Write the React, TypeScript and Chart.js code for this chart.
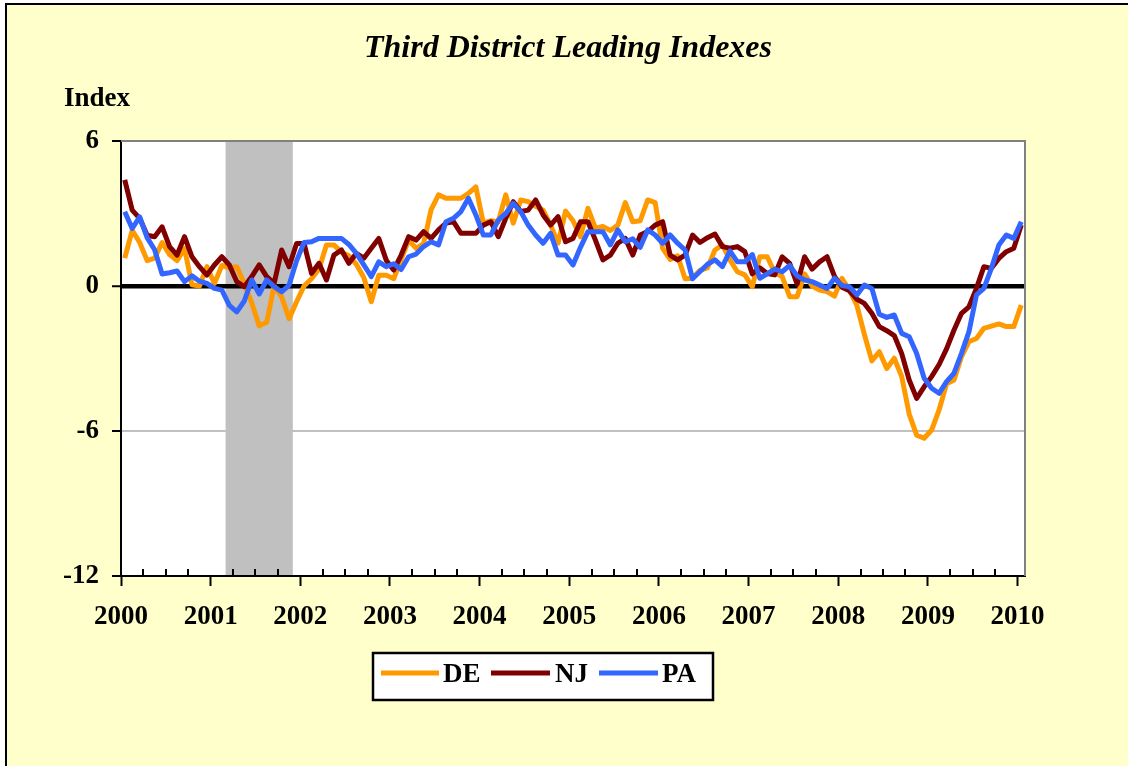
import React, { useEffect, useRef } from 'react';
import { Chart, registerables } from 'chart.js';

Chart.register(...registerables);

// Monthly index values, Jan 2000 (index 0) .. Jan 2010 (index 120)
const DE = [
  1.15, 2.3, 1.8, 1.05, 1.15, 1.8, 1.3, 1.05, 1.55, 0.05, 0.0, 0.8,
  0.1, 0.85, 0.75, 0.8, 0.1, -0.7, -1.65, -1.5, 0.0, -0.45, -1.35, -0.65,
  0.0, 0.3, 0.7, 1.7, 1.7, 1.4, 1.25, 0.9, 0.35, -0.65, 0.45, 0.45,
  0.3, 1.1, 1.9, 1.56, 1.75, 3.15, 3.77, 3.63, 3.63, 3.63, 3.83, 4.1,
  2.6, 2.7, 2.66, 3.77, 2.6, 3.56, 3.49, 3.3, 3.14, 2.52, 1.77, 3.1,
  2.7, 2.04, 3.21, 2.39, 2.46, 2.3, 2.52, 3.45, 2.66, 2.7, 3.56, 3.45,
  1.56, 1.1, 1.25, 0.3, 0.32, 0.65, 0.75, 1.49, 1.7, 1.08, 0.59, 0.46,
  -0.03, 1.21, 1.21, 0.55, 0.39, -0.44, -0.44, 0.5, 0.0, -0.17, -0.23, -0.42,
  0.32, -0.17, -0.8, -2.0, -3.1, -2.72, -3.41, -2.99, -3.75, -5.3, -6.17, -6.3,
  -5.96, -5.13, -4.05, -3.89, -2.92, -2.3, -2.17, -1.75, -1.66, -1.57, -1.68, -1.68,
  -0.79,
];

const NJ = [
  4.39, 3.14, 2.8, 2.1, 2.04, 2.45, 1.63, 1.28, 2.04, 1.21, 0.8, 0.45,
  0.87, 1.21, 0.87, 0.18, -0.03, 0.39, 0.87, 0.39, 0.11, 1.49, 0.8, 1.76,
  1.76, 0.52, 0.94, 0.25, 1.28, 1.49, 0.94, 1.35, 1.15, 1.56, 1.97, 1.07,
  0.66, 1.28, 2.04, 1.9, 2.25, 1.97, 2.32, 2.6, 2.66, 2.18, 2.18, 2.18,
  2.52, 2.66, 2.04, 2.8, 3.49, 3.08, 3.14, 3.56, 2.94, 2.52, 2.87, 1.83,
  1.97, 2.66, 2.66, 1.9, 1.08, 1.28, 1.77, 1.97, 1.28, 2.11, 2.25, 2.52,
  2.66, 1.28, 1.08, 1.28, 2.11, 1.8, 2.0, 2.15, 1.63, 1.56, 1.63, 1.42,
  0.5, 0.75, 0.52, 0.46, 1.21, 0.94, 0.08, 1.21, 0.7, 1.0, 1.21, 0.4,
  -0.05, -0.2, -0.55, -0.72, -1.13, -1.68, -1.85, -2.05, -2.8, -3.89, -4.65, -4.17,
  -3.75, -3.25, -2.6, -1.82, -1.13, -0.86, -0.1, 0.8, 0.73, 1.14, 1.42, 1.56,
  2.52,
];

const PA = [
  3.07, 2.38, 2.86, 2.0, 1.5, 0.5, 0.55, 0.62, 0.18, 0.42, 0.2, 0.11,
  -0.1, -0.17, -0.8, -1.07, -0.62, 0.25, -0.33, 0.25, -0.03, -0.24, 0.04, 1.04,
  1.8, 1.83, 1.97, 1.97, 1.97, 1.97, 1.72, 1.35, 0.87, 0.39, 1.0, 0.8,
  0.92, 0.68, 1.21, 1.32, 1.63, 1.83, 1.7, 2.66, 2.8, 3.08, 3.63, 2.94,
  2.11, 2.11, 2.73, 3.0, 3.42, 3.08, 2.52, 2.11, 1.77, 2.18, 1.28, 1.28,
  0.87, 1.6, 2.25, 2.25, 2.25, 1.7, 2.32, 1.83, 1.95, 1.6, 2.32, 2.11,
  1.77, 2.11, 1.77, 1.49, 0.3, 0.6, 0.9, 1.08, 0.8, 1.45, 1.0, 1.0,
  1.3, 0.32, 0.5, 0.7, 0.59, 0.85, 0.42, 0.25, 0.18, 0.04, -0.1, 0.32,
  0.02, -0.03, -0.37, 0.04, -0.1, -1.17, -1.3, -1.2, -1.96, -2.1, -2.79, -3.82,
  -4.23, -4.44, -3.96, -3.61, -2.79, -1.89, -0.37, -0.1, 0.73, 1.7, 2.11, 1.97,
  2.66,
];

const seriesNames = ['DE', 'NJ', 'PA'];
const seriesColors = ['#FF9900', '#800000', '#3366FF'];

const yearLabels = ['2000', '2001', '2002', '2003', '2004', '2005', '2006', '2007', '2008', '2009', '2010'];
const yTickValues = [-12, -6, 0, 6];

// Recession shading (month index span, Mar 2001 .. Nov 2001)
const recessionStart = [13.5];
const recessionEnd = [22.5];

const TITLE = 'Third District Leading Indexes';
const Y_TITLE = 'Index';
const SERIF = '"Liberation Serif", "Times New Roman", Times, serif';

export default function App() {
  const canvasRef = useRef<HTMLCanvasElement | null>(null);

  useEffect(() => {
    document.body.style.margin = '0';
    document.body.style.overflow = 'hidden';
    const canvas = canvasRef.current;
    if (!canvas) return;

    const toPts = (arr: number[]) => arr.map((v, i) => ({ x: i, y: v }));
    const allSeries = [DE, NJ, PA];

    const decorPlugin = {
      id: 'decor',
      beforeDraw(chart: any) {
        const { ctx, chartArea: a, scales } = chart;
        const xs = scales.x;
        ctx.save();
        ctx.fillStyle = '#FFFFFF';
        ctx.fillRect(a.left, a.top, a.right - a.left, a.bottom - a.top);
        ctx.fillStyle = '#C0C0C0';
        for (let i = 0; i < recessionStart.length; i++) {
          const x0 = xs.getPixelForValue(recessionStart[i]);
          const x1 = xs.getPixelForValue(recessionEnd[i]);
          ctx.fillRect(x0, a.top, x1 - x0, a.bottom - a.top);
        }
        ctx.restore();
      },
      beforeDatasetsDraw(chart: any) {
        const { ctx, chartArea: a, scales } = chart;
        const xs = scales.x;
        ctx.save();
        ctx.strokeStyle = '#808080';
        ctx.lineWidth = 2;
        ctx.beginPath();
        ctx.moveTo(a.left, a.top);
        ctx.lineTo(a.right, a.top);
        ctx.lineTo(a.right, a.bottom);
        ctx.stroke();
        ctx.strokeStyle = '#000';
        ctx.lineWidth = 2;
        for (let q = 0; q * 3 - 0.5 <= xs.max; q++) {
          if (q % 4 === 0) continue;
          const px = Math.round(xs.getPixelForValue(q * 3 - 0.5));
          ctx.beginPath();
          ctx.moveTo(px, a.bottom);
          ctx.lineTo(px, a.bottom - 7);
          ctx.stroke();
        }
        ctx.restore();
      },
      afterDraw(chart: any) {
        const { ctx } = chart;
        ctx.save();
        ctx.fillStyle = '#000';
        ctx.textBaseline = 'alphabetic';
        ctx.textAlign = 'center';
        ctx.font = `italic bold 32px ${SERIF}`;
        ctx.fillText(TITLE, 568, 57);
        ctx.textAlign = 'left';
        ctx.font = `bold 27px ${SERIF}`;
        ctx.fillText(Y_TITLE, 64, 106);

        const lx = 373, ly = 653, lw = 340, lh = 47;
        ctx.fillStyle = '#FFFFFF';
        ctx.fillRect(lx, ly, lw, lh);
        ctx.strokeStyle = '#000';
        ctx.lineWidth = 2.5;
        ctx.strokeRect(lx, ly, lw, lh);
        const items = [
          { x0: 381, x1: 439, tx: 443 },
          { x0: 491, x1: 550, tx: 555 },
          { x0: 599, x1: 658, tx: 662 },
        ];
        const ds = chart.data.datasets;
        ctx.font = `bold 27px ${SERIF}`;
        ctx.textBaseline = 'middle';
        for (let i = 0; i < items.length; i++) {
          const it = items[i];
          ctx.strokeStyle = ds[i].borderColor;
          ctx.lineWidth = 5;
          ctx.beginPath();
          ctx.moveTo(it.x0, 673);
          ctx.lineTo(it.x1, 673);
          ctx.stroke();
          ctx.fillStyle = '#000';
          ctx.fillText(ds[i].label, it.tx, 675);
        }
        ctx.restore();
      },
    };

    const chart = new Chart(canvas, {
      type: 'line',
      data: {
        datasets: seriesNames.map((name, i) => ({
          label: name,
          data: toPts(allSeries[i]),
          borderColor: seriesColors[i],
          backgroundColor: seriesColors[i],
          borderWidth: 5,
          pointRadius: 0,
          tension: 0,
          borderJoinStyle: 'round',
          fill: false,
          order: 2 - i,
        })),
      },
      options: {
        animation: false,
        responsive: false,
        maintainAspectRatio: false,
        layout: { padding: { left: 0, top: 141, right: 103, bottom: 0 } },
        plugins: {
          legend: { display: false },
          tooltip: { enabled: false },
          title: { display: false },
        },
        scales: {
          x: {
            type: 'linear',
            min: -0.5,
            max: 120.5,
            afterBuildTicks: (scale: any) => {
              scale.ticks = yearLabels.map((_, k) => ({ value: k * 12 - 0.5 }));
            },
            afterFit: (scale: any) => {
              scale.height = 766 - 576;
            },
            ticks: {
              autoSkip: false,
              maxRotation: 0,
              minRotation: 0,
              padding: 15,
              color: '#000',
              font: { family: SERIF, size: 27, weight: 'bold' },
              callback: (value: any) => yearLabels[Math.round((Number(value) + 0.5) / 12)] ?? '',
            },
            grid: {
              display: true,
              drawOnChartArea: false,
              drawTicks: true,
              tickLength: 10,
              tickColor: '#000',
              tickWidth: 2,
              color: '#000',
            },
            border: { display: true, color: '#000', width: 2 },
          },
          y: {
            type: 'linear',
            min: -12,
            max: 6,
            afterBuildTicks: (scale: any) => {
              scale.ticks = yTickValues.map((v) => ({ value: v }));
            },
            afterFit: (scale: any) => {
              scale.width = 121;
            },
            ticks: {
              padding: 13,
              color: '#000',
              font: { family: SERIF, size: 27, weight: 'bold' },
              callback: (value: any) => String(value),
            },
            grid: {
              drawTicks: true,
              tickLength: 9,
              tickColor: '#000',
              tickWidth: 2,
              color: (c: any) => {
                const v = c.tick ? c.tick.value : null;
                if (v === 0 || v === -12) return '#000';
                if (v === 6) return '#808080';
                return '#C0C0C0';
              },
              lineWidth: (c: any) => (c.tick && c.tick.value === 0 ? 4.5 : 2),
            },
            border: { display: true, color: '#000', width: 2 },
          },
        },
      },
      plugins: [decorPlugin],
    } as any);

    return () => {
      chart.destroy();
    };
  }, []);

  return (
    <div>
      <div
        style={{
          position: 'fixed',
          left: 5,
          top: 3,
          width: 1200,
          height: 800,
          border: '2px solid #000',
          background: '#FFFFCC',
        }}
      />
      <canvas
        ref={canvasRef}
        width={1128}
        height={766}
        style={{ position: 'fixed', left: 0, top: 0, width: 1128, height: 766 }}
      />
    </div>
  );
}
